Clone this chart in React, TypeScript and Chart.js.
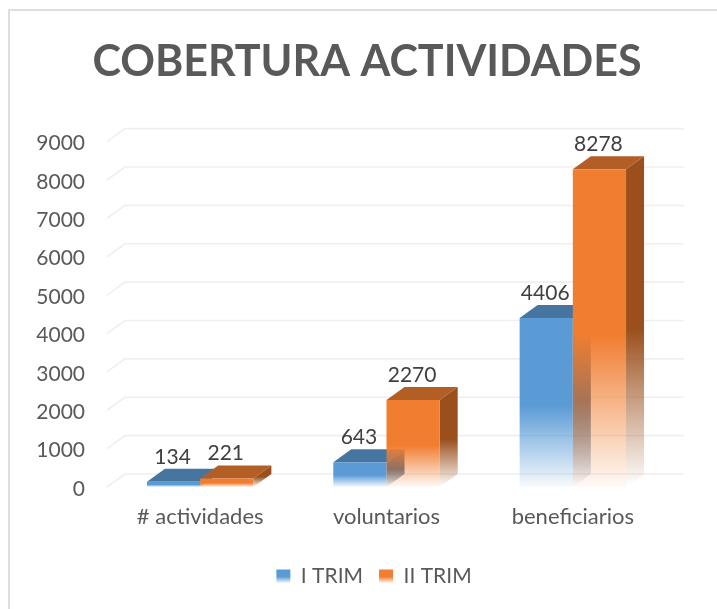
import React, { useEffect, useRef } from "react";
import { Chart, registerables } from "chart.js";

Chart.register(...registerables);

const categories = ["# actividades", "voluntarios", "beneficiarios"];
const seriesNames = ["I TRIM", "II TRIM"];
const trimOne = [134, 643, 4406];
const trimTwo = [221, 2270, 8278];
const yTicks = [0, 1000, 2000, 3000, 4000, 5000, 6000, 7000, 8000, 9000];

const FONT = "Lato, 'Open Sans', sans-serif";
const DEPTH_X = 18;
const DEPTH_Y = 13;

const palette = [
  { front: "91,155,213", top: "70,117,160", side: "62,104,143" },
  { front: "240,125,48", top: "178,94,36", side: "154,79,28" },
];

function fade(ctx: CanvasRenderingContext2D, yTop: number, yBottom: number, rgb: string, end = 0.04) {
  const g = ctx.createLinearGradient(0, yTop, 0, yBottom);
  g.addColorStop(0, `rgba(${rgb},1)`);
  g.addColorStop(0.52, `rgba(${rgb},1)`);
  g.addColorStop(1, `rgba(${rgb},${end})`);
  return g;
}

const frontFill = (series: number) => (c: any) => {
  const chart = c.chart;
  const { ctx, scales } = chart;
  if (c.dataIndex === undefined || c.raw === undefined) return `rgb(${palette[series].front})`;
  return fade(ctx, scales.y.getPixelForValue(c.raw), scales.y.getPixelForValue(0), palette[series].front);
};

const backGrid = {
  id: "backGrid",
  afterLayout(chart: any) {
    chart.titleBlock.left += 34;
    chart.titleBlock.right += 34;
    chart.legend.left += 41;
    chart.legend.right += 41;
  },
  beforeDatasetsDraw(chart: any) {
    const { ctx, chartArea, scales } = chart;
    ctx.save();
    ctx.strokeStyle = "#efefef";
    ctx.lineWidth = 1.6;
    for (const t of yTicks) {
      const y = scales.y.getPixelForValue(t);
      ctx.beginPath();
      ctx.moveTo(chartArea.left, y);
      ctx.lineTo(chartArea.left + DEPTH_X, y - DEPTH_Y);
      ctx.lineTo(chartArea.right + DEPTH_X, y - DEPTH_Y);
      ctx.stroke();
    }
    ctx.restore();
  },
};

function drawFaces(ctx: CanvasRenderingContext2D, meta: any, index: number) {
  const colors = palette[index];
  ctx.save();
  for (const bar of meta.data) {
    const half = bar.width / 2;
    const left = bar.x - half;
    const right = bar.x + half;
    const top = bar.y;
    const base = bar.base;
    ctx.fillStyle = `rgb(${colors.top})`;
    ctx.beginPath();
    ctx.moveTo(left, top);
    ctx.lineTo(left + DEPTH_X, top - DEPTH_Y);
    ctx.lineTo(right + DEPTH_X, top - DEPTH_Y);
    ctx.lineTo(right, top);
    ctx.closePath();
    ctx.fill();
    ctx.fillStyle = fade(ctx, top - DEPTH_Y, base, colors.side, 0);
    ctx.beginPath();
    ctx.moveTo(right, top);
    ctx.lineTo(right + DEPTH_X, top - DEPTH_Y);
    ctx.lineTo(right + DEPTH_X, base - DEPTH_Y);
    ctx.lineTo(right, base);
    ctx.closePath();
    ctx.fill();
  }
  ctx.restore();
}

// Chart.js paints the first dataset last; here the later series has to overlap the earlier one.
const bar3d = {
  id: "bar3d",
  beforeDatasetDraw() {
    return false;
  },
  afterDatasetsDraw(chart: any) {
    const { ctx } = chart;
    chart.data.datasets.forEach((_: any, i: number) => {
      const meta = chart.getDatasetMeta(i);
      drawFaces(ctx, meta, i);
      meta.controller.draw();
    });
    ctx.save();
    ctx.font = `21px ${FONT}`;
    ctx.fillStyle = "#404040";
    ctx.textAlign = "center";
    ctx.textBaseline = "middle";
    chart.data.datasets.forEach((ds: any, i: number) => {
      chart.getDatasetMeta(i).data.forEach((bar: any, j: number) => {
        ctx.fillText(String(ds.data[j]), bar.x - 1, bar.y - DEPTH_Y - 12);
      });
    });
    ctx.restore();
  },
};

export default function App() {
  const ref = useRef<HTMLCanvasElement>(null);
  useEffect(() => {
    if (!ref.current) return;
    const chart = new Chart(ref.current, {
      type: "bar",
      data: {
        labels: categories,
        datasets: [
          {
            label: seriesNames[0],
            data: trimOne,
            backgroundColor: frontFill(0),
            categoryPercentage: 0.571,
            barPercentage: 1,
          },
          {
            label: seriesNames[1],
            data: trimTwo,
            backgroundColor: frontFill(1),
            categoryPercentage: 0.571,
            barPercentage: 1,
          },
        ],
      },
      options: {
        responsive: false,
        animation: false,
        layout: { padding: { left: 0, right: 51, top: 0, bottom: 12 } },
        scales: {
          x: {
            border: { display: false },
            grid: { display: false },
            afterFit: (s: any) => {
              s.height = 63;
            },
            ticks: { color: "#595959", font: { family: FONT, size: 22 }, padding: 9, maxRotation: 0 },
          },
          y: {
            min: 0,
            max: 9000,
            afterFit: (s: any) => {
              s.width = 107;
            },
            border: { display: false },
            grid: { display: false },
            ticks: {
              stepSize: 1000,
              color: "#595959",
              font: { family: FONT, size: 21 },
              padding: 14,
              labelOffset: 2,
              callback: (v: any) => String(v),
            },
          },
        },
        plugins: {
          tooltip: { enabled: false },
          title: {
            display: true,
            text: "COBERTURA ACTIVIDADES",
            color: "#595959",
            font: { family: FONT, size: 43, weight: "bold" },
            padding: { top: 36, bottom: 54 },
          },
          legend: {
            position: "bottom",
            labels: {
              color: "#595959",
              font: { family: FONT, size: 21 },
              boxWidth: 14,
              boxHeight: 14,
              padding: 16,
              generateLabels: (c: any) => {
                const g = c.ctx;
                const y = 569;
                return seriesNames.map((name, i) => {
                  const fill = g.createLinearGradient(0, y, 0, y + 14);
                  fill.addColorStop(0, `rgba(${palette[i].front},1)`);
                  fill.addColorStop(0.55, `rgba(${palette[i].front},1)`);
                  fill.addColorStop(1, `rgba(${palette[i].front},0.05)`);
                  return { text: name, fillStyle: fill, strokeStyle: "rgba(0,0,0,0)", lineWidth: 0, datasetIndex: i, fontColor: "#595959" };
                });
              },
            },
          },
        },
      },
      plugins: [backGrid, bar3d],
    } as any);
    return () => chart.destroy();
  }, []);
  return (
    <div style={{ position: "absolute", left: 0, top: 0, width: 717, height: 609, background: "#fff", overflow: "hidden" }}>
      <div style={{ position: "absolute", left: 8, top: 9, width: 720, height: 620, border: "2px solid #dedede", boxSizing: "border-box" }} />
      <canvas ref={ref} width={717} height={609} style={{ position: "absolute", left: 0, top: 0, display: "block" }} />
    </div>
  );
}
